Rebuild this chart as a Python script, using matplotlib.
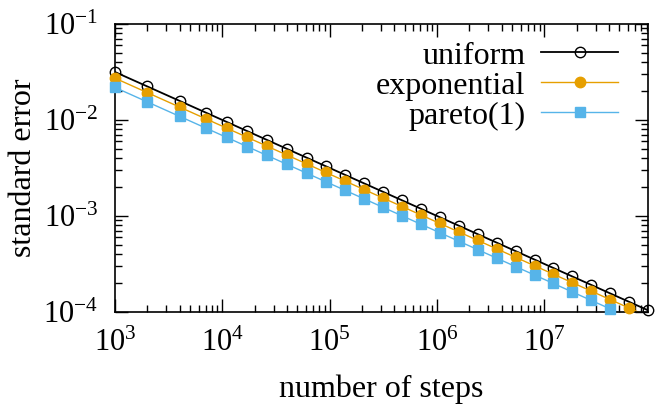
import numpy as np
import matplotlib
matplotlib.use('Agg')
import matplotlib.pyplot as plt

plt.rcParams['font.family'] = ['Liberation Serif', 'DejaVu Serif']
plt.rcParams['mathtext.fontset'] = 'custom'
plt.rcParams['mathtext.rm'] = 'Liberation Serif'
plt.rcParams['mathtext.it'] = 'Liberation Serif:italic'

# number of steps at which the standard error was recorded
steps = [1e3, 2e3, 4e3, 7e3, 1.1e4, 1.7e4, 2.6e4, 4.0e4, 6.1e4, 9.2e4,
         1.39e5, 2.09e5, 3.14e5, 4.72e5, 7.09e5, 1.064e6, 1.597e6, 2.396e6,
         3.595e6, 5.393e6, 8.09e6, 1.2136e7, 1.8205e7, 2.7308e7, 4.0963e7,
         6.1445e7, 9.2168e7]

se_uniform = [0.03162, 0.02236, 0.01581, 0.01195, 0.009535, 0.007670,
              0.006202, 0.005000, 0.004049, 0.003297, 0.002682, 0.002187,
              0.001785, 0.001456, 0.001188, 0.0009695, 0.0007913, 0.0006460,
              0.0005274, 0.0004306, 0.0003516, 0.0002871, 0.0002344,
              0.0001914, 0.0001562, 0.0001276, 0.0001042]

se_exponential = [0.02726, 0.01928, 0.01363, 0.01030, 0.008219, 0.006611,
                  0.005346, 0.004310, 0.003490, 0.002842, 0.002312, 0.001885,
                  0.001538, 0.001255, 0.001024, 0.0008357, 0.0006821,
                  0.0005569, 0.0004546, 0.0003712, 0.0003031, 0.0002474,
                  0.0002020, 0.0001650, 0.0001347, 0.0001100, 0.00008979]

se_pareto = [0.02182, 0.01543, 0.01091, 0.008247, 0.006579, 0.005292,
             0.004279, 0.003450, 0.002794, 0.002275, 0.001851, 0.001509,
             0.001231, 0.001004, 0.0008195, 0.0006689, 0.0005460, 0.0004458,
             0.0003639, 0.0002971, 0.0002426, 0.0001981, 0.0001617,
             0.0001320, 0.0001078, 0.00008803, 0.00007187]

series = [
    ('uniform', se_uniform, 'black', 'o', 'none', 1.3),
    ('exponential', se_exponential, '#e69f00', 'o', '#e69f00', 1.0),
    ('pareto(1)', se_pareto, '#56b4e9', 's', '#56b4e9', 1.0),
]

YMIN, YMAX = 1e-4, 1e-1
FS = 23

fig = plt.figure(figsize=(6.63, 4.05), dpi=100)
ax = fig.add_axes([115 / 663, 1 - 312 / 405, 533 / 663, 288 / 405])

x = np.array(steps)
for name, se, color, marker, mfc, lw in series:
    y = np.array(se)
    ax.plot(x, y, color=color, lw=lw, zorder=2)
    # gnuplot draws in-range points unclipped at the border
    inside = (y >= YMIN * 0.999) & (y <= YMAX)
    ax.plot(x[inside], y[inside], ls='none', marker=marker, ms=7.5,
            mfc=mfc, mec=color, mew=1.0, clip_on=False, zorder=3)
    # legend proxy
    ax.plot([], [], color=color, lw=lw, marker=marker, ms=7.5, mfc=mfc,
            mec=color, mew=1.0, label=name)

ax.set_xscale('log')
ax.set_yscale('log')
ax.set_xlim(steps[0], steps[-1])
ax.set_ylim(YMIN, YMAX)

ax.tick_params(which='both', direction='in', top=True, right=True,
               labelsize=FS - 1, width=1.0)
ax.tick_params(which='major', length=9.5)
ax.tick_params(which='minor', length=5)
ax.tick_params(axis='x', which='major', pad=12)
ax.tick_params(axis='y', which='major', pad=12)
for s in ax.spines.values():
    s.set_linewidth(1.2)

ax.set_xlabel('number of steps', fontsize=FS, labelpad=12)
ax.set_ylabel('standard error', fontsize=FS, labelpad=4)

ax.legend(loc='upper right', bbox_to_anchor=(0.944, 0.94), frameon=False,
          markerfirst=False, fontsize=FS, handlelength=2.4,
          handletextpad=0.5, labelspacing=0.02, borderaxespad=0,
          borderpad=0, numpoints=1)

fig.savefig('out.png', dpi=100)
